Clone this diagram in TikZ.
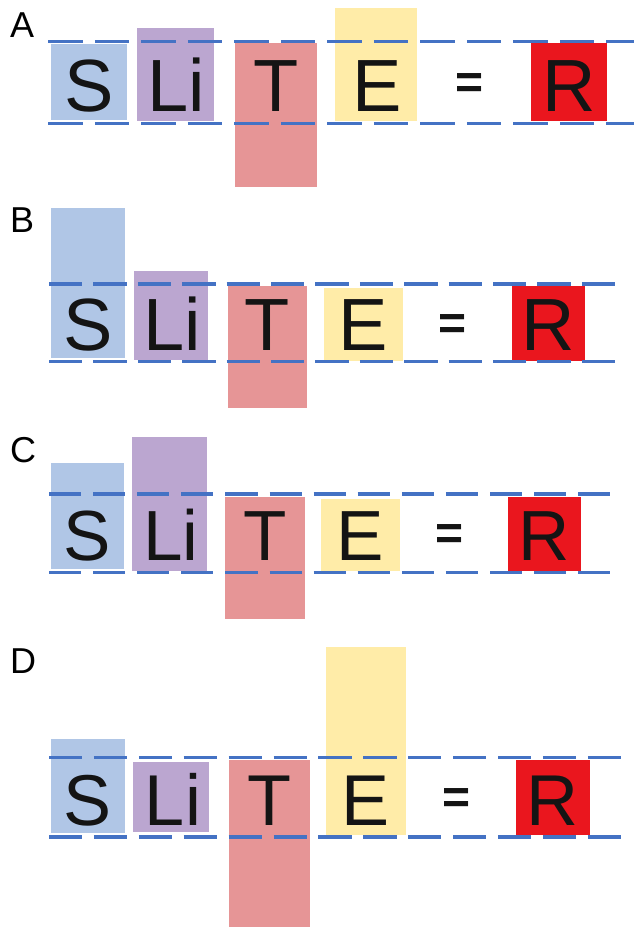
\documentclass[tikz,border=0pt]{standalone}
\usepackage{fontspec}
\setmainfont{Liberation Sans}
\usepackage{tikz}

\definecolor{azul}{RGB}{176,198,230}
\definecolor{lila}{RGB}{187,166,208}
\definecolor{salmon}{RGB}{230,149,150}
\definecolor{amarillo}{RGB}{255,236,168}
\definecolor{rojo}{RGB}{234,22,30}
\definecolor{linea}{RGB}{68,114,196}
\definecolor{tinta}{RGB}{20,20,20}

\begin{document}
\begin{tikzpicture}[x=1pt, y=-1pt,
  letra/.style={anchor=base, inner sep=0pt, text=tinta, font=\fontsize{#1}{#1}\selectfont},
  letra/.default=74,
  igual/.style={anchor=base, inner sep=0pt, text=tinta, font=\fontsize{48}{48}\selectfont\bfseries},
  rotulo/.style={anchor=base west, inner sep=0pt, font=\fontsize{36}{36}\selectfont},
  guia/.style={draw=linea, line width=3.5pt}]
\useasboundingbox (0,0) rectangle (634,927);

% A
\fill[azul] (50.5,43.5) rectangle (127,119.5);
\fill[lila] (136.5,28.3) rectangle (214,120.7);
\fill[salmon] (234.5,43.3) rectangle (317,186.7);
\fill[amarillo] (335,8.3) rectangle (417,121);
\fill[rojo] (530.5,43.3) rectangle (607,121);
\coordinate (a1) at (48.3,41.7); \coordinate (a2) at (640,41.7);
\coordinate (a3) at (48.3,123.3); \coordinate (a4) at (640,123.3);
\draw[guia, dash pattern=on 34.2pt off 12.3pt] (a1) -- (a2);
\draw[guia, dash pattern=on 34.2pt off 12.3pt] (a3) -- (a4);
\node[rotulo] (labA) at (10,37) {A};
\node[letra] (sA) at (89,111) {S};
\node[letra] (liA) at (176,111) {Li};
\node[letra] (tA) at (276,111) {T};
\node[letra] (eA) at (377,111) {E};
\node[igual] (eqA) at (470,98.5) {=};
\node[letra] (rA) at (569,111) {R};

% B
\fill[azul] (51,208) rectangle (124.5,358);
\fill[lila] (133.5,271) rectangle (208,360);
\fill[salmon] (227.7,285.7) rectangle (307,408);
\fill[amarillo] (323.5,288) rectangle (403,360.7);
\fill[rojo] (511.5,285.7) rectangle (585,360.7);
\coordinate (b1) at (49,284); \coordinate (b2) at (615.5,284);
\coordinate (b3) at (49,361.7); \coordinate (b4) at (615.5,361.7);
\draw[guia, dash pattern=on 33.3pt off 11.1pt] (b1) -- (b2);
\draw[guia, dash pattern=on 33.3pt off 11.1pt] (b3) -- (b4);
\node[rotulo] (labB) at (10,232) {B};
\node[letra=74] (sB) at (88,350.5) {S};
\node[letra=74] (liB) at (172,350.5) {Li};
\node[letra=74] (tB) at (267.5,350.5) {T};
\node[letra=74] (eB) at (363.5,350.5) {E};
\node[igual] (eqB) at (453,339.5) {=};
\node[letra=74] (rB) at (548.5,350.5) {R};

% C
\fill[azul] (50.5,463) rectangle (124,569);
\fill[lila] (132,436.7) rectangle (206.6,570.7);
\fill[salmon] (225,497) rectangle (305,619.3);
\fill[amarillo] (320.7,499) rectangle (399.5,571);
\fill[rojo] (507.5,496.7) rectangle (581,571);
\coordinate (c1) at (49,494); \coordinate (c2) at (611,494);
\coordinate (c3) at (49,572.7); \coordinate (c4) at (611,572.7);
\draw[guia, dash pattern=on 32.1pt off 12pt] (c1) -- (c2);
\draw[guia, dash pattern=on 32.1pt off 12pt] (c3) -- (c4);
\node[rotulo] (labC) at (10,462) {C};
\node[letra=71] (sC) at (87.5,560.5) {S};
\node[letra=71] (liC) at (171,560.5) {Li};
\node[letra=71] (tC) at (265,560.5) {T};
\node[letra=71] (eC) at (360,560.5) {E};
\node[igual] (eqC) at (450,549) {=};
\node[letra=71] (rC) at (544,560.5) {R};

% D
\fill[azul] (50.5,739) rectangle (125.4,833);
\fill[lila] (133.4,762) rectangle (209,832);
\fill[salmon] (229,760) rectangle (309.7,927);
\fill[amarillo] (325.5,646.7) rectangle (405.6,835);
\fill[rojo] (515.6,760) rectangle (589.6,835);
\coordinate (d1) at (49,757.7); \coordinate (d2) at (621.5,757.7);
\coordinate (d3) at (49,837); \coordinate (d4) at (621.5,837);
\draw[guia, dash pattern=on 33.2pt off 11.7pt] (d1) -- (d2);
\draw[guia, dash pattern=on 33.2pt off 11.7pt] (d3) -- (d4);
\node[rotulo] (labD) at (10,673) {D};
\node[letra=72] (sD) at (88,825) {S};
\node[letra=72] (liD) at (173,825) {Li};
\node[letra=72] (tD) at (269.5,825) {T};
\node[letra=72] (eD) at (365.5,825) {E};
\node[igual] (eqD) at (457,813.5) {=};
\node[letra=72] (rD) at (552.5,825) {R};
\end{tikzpicture}
\end{document}
